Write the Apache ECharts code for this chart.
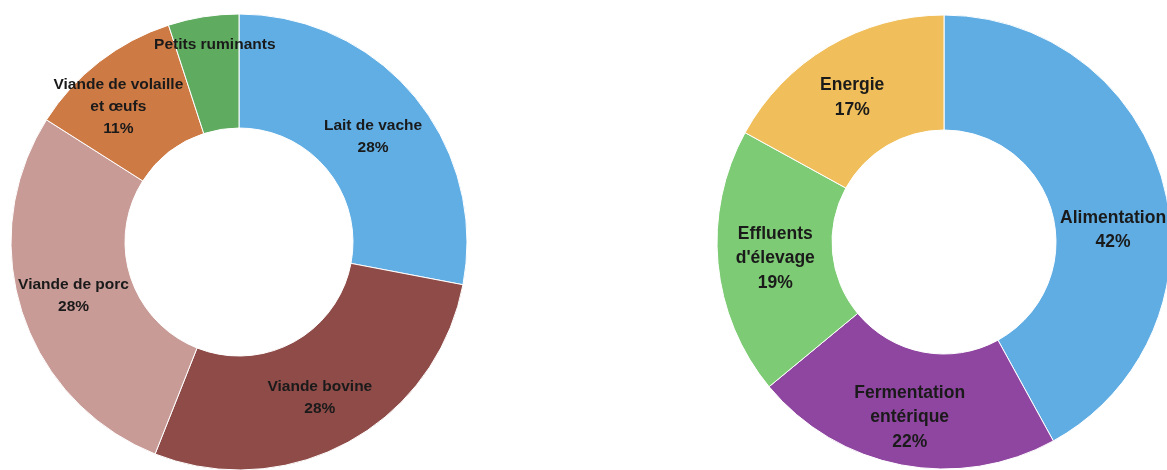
<!DOCTYPE html>
<html>
<head>
<meta charset="utf-8">
<script src="https://cdn.jsdelivr.net/npm/echarts@6/dist/echarts.min.js"></script>
<style>
html,body{margin:0;padding:0;background:#fff;}
#c{width:1167px;height:470px;}
</style>
</head>
<body>
<div id="c"></div>
<script>
// Left donut: share by product
const leftCategories = ['Lait de vache', 'Viande bovine', 'Viande de porc', 'Viande de volaille\net œufs', 'Petits ruminants'];
const leftValues = [28, 28, 28, 11, 5];
const leftShowValue = [true, true, true, true, false];

// Right donut: share by source
const rightCategories = ['Alimentation', 'Fermentation\nentérique', "Effluents\nd'élevage", 'Energie'];
const rightValues = [42, 22, 19, 17];

const leftColors = ['#60aee4', '#8e4b48', '#c89b97', '#cd7a45', '#5fab5f'];
const rightColors = ['#60ade4', '#8f46a1', '#7dcb74', '#f0bf5b'];

// label nudges (style only)
const leftNudge = [[0, 6], [-3, 3], [0, 0], [-14, 2], [3, -25]];
const rightNudge = [[2, 31], [-2, 6], [3, 0], [-4, 4]];

const leftData = leftCategories.map((n, i) => ({
  name: n, value: leftValues[i],
  itemStyle: { color: leftColors[i] },
  label: { formatter: leftShowValue[i] ? '{b}\n{c}%' : '{b}' }
}));
const rightData = rightCategories.map((n, i) => ({
  name: n, value: rightValues[i],
  itemStyle: { color: rightColors[i] }
}));

const chart = echarts.init(document.getElementById('c'));
chart.setOption({
  animation: false,
  series: [
    {
      type: 'pie',
      center: [239, 242],
      radius: [114, 228],
      startAngle: 90,
      clockwise: true,
      data: leftData,
      itemStyle: { borderColor: '#fff', borderWidth: 1 },
      label: {
        show: true, position: 'inside',
        formatter: '{b}\n{c}%',
        color: '#1a1a1a',
        fontFamily: 'Liberation Sans, Arial, sans-serif',
        fontWeight: 'bold',
        fontSize: 15.5,
        lineHeight: 22,
        letterSpacing: -0.2,
        align: 'center'
      },
      labelLine: { show: false },
      labelLayout: function (p) {
        const d = leftNudge[p.dataIndex] || [0, 0];
        return { dx: d[0], dy: d[1] };
      },
      emphasis: { disabled: true }
    },
    {
      type: 'pie',
      center: [944, 242],
      radius: [112, 227],
      startAngle: 90,
      clockwise: true,
      data: rightData,
      itemStyle: { borderColor: '#fff', borderWidth: 1 },
      label: {
        show: true, position: 'inside',
        formatter: '{b}\n{c}%',
        color: '#1a1a1a',
        fontFamily: 'Liberation Sans, Arial, sans-serif',
        fontWeight: 'bold',
        fontSize: 17.5,
        lineHeight: 24.5,
        align: 'center'
      },
      labelLine: { show: false },
      labelLayout: function (p) {
        const d = rightNudge[p.dataIndex] || [0, 0];
        return { dx: d[0], dy: d[1] };
      },
      emphasis: { disabled: true }
    }
  ]
});
</script>
</body>
</html>
